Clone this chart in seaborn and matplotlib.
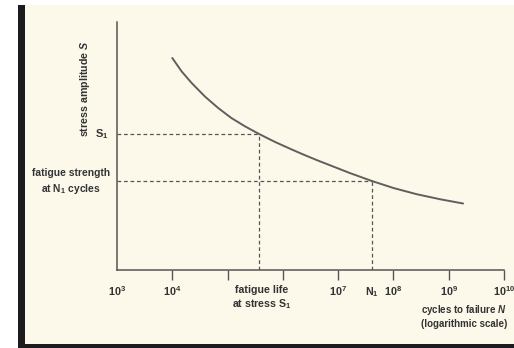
import matplotlib
matplotlib.use("Agg")
import matplotlib.pyplot as plt
import seaborn as sns
import pandas as pd
from matplotlib.patches import Rectangle

# ---- data ----
cycles = [1e4, 1.48e4, 2.24e4, 3.89e4, 6.76e4, 1.17e5, 2.09e5, 3.72e5, 7.24e5,
          1.45e6, 2.34e6, 4.07e6, 8.13e6, 1.62e7, 4.07e7, 1e8, 2.63e8, 6.92e8, 1.82e9]
stress = [212, 198.5, 187, 173.5, 162, 152, 143.5, 136, 128,
          120.5, 115.5, 110, 103.5, 97, 89, 82, 75.8, 70.8, 66.5]
s1_cycles = 3.72e5
s1_stress = 136
n1_cycles = 4.07e7
n1_stress = 89
x_ticks = [1e3, 1e4, 1e5, 1e6, 1e7, 1e8, 1e9, 1e10]
x_tick_labels = [r"$\mathbf{10^{3}}$", r"$\mathbf{10^{4}}$", "", "",
                 r"$\mathbf{10^{7}}$", r"$\mathbf{10^{8}}$", r"$\mathbf{10^{9}}$",
                 r"$\mathbf{10^{10}}$"]
y_max = 248

sns.set_style("ticks")
plt.rcParams["font.family"] = ["Liberation Sans", "DejaVu Sans"]
plt.rcParams["font.weight"] = "bold"
plt.rcParams["mathtext.fontset"] = "custom"
plt.rcParams["mathtext.rm"] = "Liberation Sans:bold"
plt.rcParams["mathtext.bf"] = "Liberation Sans:bold"
plt.rcParams["mathtext.it"] = "Liberation Sans:bold:italic"

W, H = 514, 348
fig = plt.figure(figsize=(W / 100, H / 100), dpi=100, facecolor="white")

def fx(x):
    return x / W

def fy(y):
    return 1 - y / H

cream = "#fcf9eb"
dark = "#1c1c1e"
fig.patches.append(Rectangle((fx(25), fy(344)), fx(W) - fx(25), fy(5) - fy(344),
                             transform=fig.transFigure, facecolor=cream,
                             edgecolor="none", zorder=-10))
fig.patches.append(Rectangle((fx(18), fy(348)), fx(7), fy(5) - fy(348),
                             transform=fig.transFigure, facecolor=dark,
                             edgecolor="none", zorder=-10))
fig.patches.append(Rectangle((fx(18), 0), 1 - fx(18), 4 / H,
                             transform=fig.transFigure, facecolor=dark,
                             edgecolor="none", zorder=-10))

ax = fig.add_axes([fx(117), fy(270), fx(504) - fx(117), fy(22) - fy(270)])
ax.set_facecolor("none")
ax.set_zorder(5)

df = pd.DataFrame({"cycles": cycles, "stress": stress})
line_col = "#5f5f5f"
sns.lineplot(data=df, x="cycles", y="stress", ax=ax, color=line_col, linewidth=1.4)

dash_col = "#555555"
for xs, ys in [([1e3, s1_cycles], [s1_stress, s1_stress]),
               ([s1_cycles, s1_cycles], [0, s1_stress]),
               ([1e3, n1_cycles], [n1_stress, n1_stress]),
               ([n1_cycles, n1_cycles], [0, n1_stress])]:
    ax.plot(xs, ys, color=dash_col, lw=0.9, dashes=(3.0, 2.2))

ax.set_xscale("log")
ax.set_xlim(x_ticks[0], x_ticks[-1])
ax.set_ylim(0, y_max)
ax.set_xticks(x_ticks)
ax.set_xticklabels(x_tick_labels)
ax.xaxis.set_minor_locator(matplotlib.ticker.NullLocator())
ax.set_yticks([])
ax.set_xlabel("")
ax.set_ylabel("")
ax.tick_params(axis="x", direction="out", length=7, width=1.0, color="#555555",
               pad=3, labelsize=7.8, labelcolor="#333333")
ax.xaxis.get_major_ticks()[0].tick1line.set_visible(False)
for s in ["top", "right"]:
    ax.spines[s].set_visible(False)
for s in ["left", "bottom"]:
    ax.spines[s].set_color("#555555")
    ax.spines[s].set_linewidth(1.1)

tc = "#333333"
fs = 7.4
fig.text(fx(85), fy(89), r"stress amplitude $\mathit{S}$", rotation=90,
         ha="center", va="center", fontsize=7.7, color=tc, fontweight="bold")
fig.text(fx(109), fy(134), r"S$_\mathbf{1}$", ha="right", va="center",
         fontsize=fs + 0.6, color=tc, fontweight="bold")
fig.text(fx(71), fy(182), "fatigue strength\nat N$_\\mathbf{1}$ cycles",
         ha="center", va="center", fontsize=fs, color=tc, fontweight="bold",
         linespacing=1.4)
fig.text(fx(262), fy(298), "fatigue life\nat stress S$_\\mathbf{1}$",
         ha="center", va="center", fontsize=7.7, color=tc, fontweight="bold",
         linespacing=1.25)
fig.text(fx(372), fy(292), "N$_\\mathbf{1}$", ha="center", va="center",
         fontsize=7.7, color=tc, fontweight="bold")
fig.text(fx(421), fy(316), "cycles to failure $\\mathit{N}$\n(logarithmic scale)",
         ha="left", va="center", fontsize=7.0, color=tc, fontweight="bold",
         linespacing=1.2)

fig.savefig("out.png", dpi=100, facecolor="white")
